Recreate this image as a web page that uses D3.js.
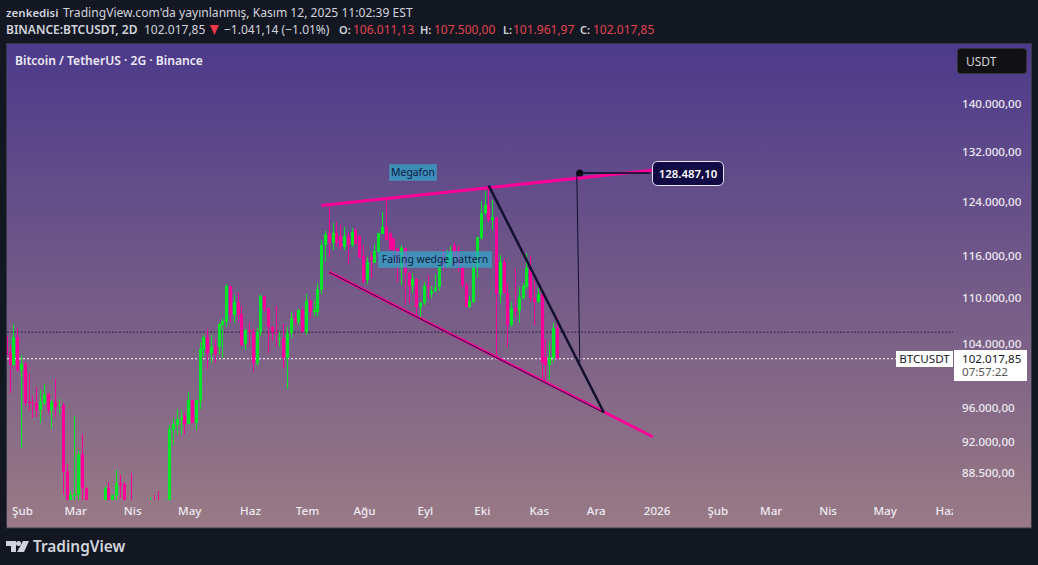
<!DOCTYPE html>
<html>
<head>
<meta charset="utf-8">
<script src="https://cdn.jsdelivr.net/npm/d3@7"></script>
<style>
  html, body { margin: 0; padding: 0; background: #131722; overflow: hidden; }
  text { font-family: "Noto Sans", sans-serif; }
</style>
</head>
<body>
<svg id="chart" width="1038" height="565"></svg>
<script>
// prices in thousands of USDT, one candle per 2 days, the first one sits 4 bars before "Şub"
const firstBar = -4;
const opens = [104.95,102.75,101.2,104.8,100.6,101.35,96.7,96.55,96.55,95.75,96.55,97.6,95.75,96.7,96.2,96.3,88.75,84.6,86.05,86.15,90.6,86.9,
  84.6,83.6,82.6,84.0,84.6,86.9,84.6,86.05,87.45,87.35,84.6,85.0,83.5,84.0,83.0,84.5,83.6,84.6,84.0,83.5,84.5,85.0,93.4,94.0,94.55,95.0,94.1,96.9,94.2,
  96.8,103.15,104.8,102.75,103.5,103.5,106.4,106.8,111.7,107.7,109.5,107.85,103.9,105.7,105.45,101.5,105.45,110.3,108.65,106.1,105.45,104.55,104.7,102.1,105.3,107.3,106.8,108.4,105.45,109.6,108.1,108.1,111.1,
  117.5,119.25,117.8,119.25,118.8,117.2,118.8,117.5,119.7,118.8,115.9,112.5,115.8,114.9,116.5,119.1,120.2,119.25,118.5,117.1,114.3,117.1,113.5,111.7,112.65,108.8,109.3,111.7,110.55,111.0,111.55,
  116.35,114.6,115.05,117.5,116.8,114.3,111.8,108.8,109.5,114.3,118.5,122.3,123.5,121.2,121.7,110.55,115.05,110.7,106.4,108.65,108.25,110.0,111.55,114.2,110.0,109.5,110.55,102.25,101.2,102.1,106.011];
const highs = [105.45,103.8,106.5,106.0,102.5,101.6,100.2,97.4,98.5,98.1,98.9,97.75,96.9,99.5,97.05,96.55,89.5,86.55,95.0,91.1,92.9,87.0,
  85.3,84.8,85.0,85.2,87.1,87.55,86.15,88.85,88.3,87.55,85.4,88.5,84.4,84.8,84.9,85.0,85.95,86.15,86.55,85.2,85.75,94.0,94.8,95.85,95.75,95.5,97.9,96.9,96.9,
  104.15,105.05,105.85,105.05,104.55,106.65,107.3,111.95,111.7,110.4,110.7,108.9,105.85,106.8,106.0,106.0,110.55,110.3,108.65,106.25,108.9,105.45,106.5,106.1,108.1,108.1,108.5,108.8,110.55,109.9,109.75,112.1,118.2,
  119.55,123.2,120.8,120.9,120.5,120.2,119.4,120.0,120.0,119.0,117.5,115.8,116.35,117.6,119.25,122.4,124.27,119.25,118.5,117.1,117.5,117.1,113.6,113.5,112.8,109.5,112.2,113.2,111.7,113.35,114.9,
  116.8,116.8,117.35,117.95,117.35,115.05,112.1,110.3,115.3,118.65,124.1,125.65,126.1,124.27,121.7,116.05,115.6,111.95,109.5,114.05,111.55,112.1,116.35,115.9,112.5,111.4,110.55,104.55,104.15,106.65,107.5];
const lows = [102.5,97.75,101.2,100.35,91.3,96.2,95.75,94.8,94.9,94.2,96.3,95.25,93.5,94.9,95.25,86.15,84.2,84.2,84.6,84.6,84.6,84.2,
  82.6,81.4,82.0,83.0,84.2,84.2,84.4,84.6,85.85,84.2,83.5,82.5,80.0,82.5,82.2,83.0,83.0,83.8,83.0,83.0,84.0,84.6,91.65,92.8,92.9,92.9,94.1,94.2,93.4,
  95.85,102.4,100.75,101.5,101.5,102.65,102.1,106.1,106.8,106.65,106.8,103.65,103.15,103.65,100.35,101.1,104.95,108.1,102.75,104.3,103.5,103.5,100.85,98.25,104.7,106.4,106.4,105.45,105.05,107.3,107.6,107.45,110.55,
  115.05,115.8,116.8,117.2,116.8,116.8,114.75,117.2,117.6,115.6,112.1,111.95,112.8,114.9,116.5,119.1,118.2,116.8,115.05,112.2,111.8,109.05,109.3,110.7,107.45,107.45,109.05,110.0,110.0,110.85,111.0,
  113.9,114.2,114.2,114.6,113.6,111.55,108.8,108.65,109.3,112.8,118.2,122.0,120.9,119.7,102.25,109.3,110.7,103.5,106.1,107.45,106.65,109.75,111.25,109.5,106.4,109.3,99.25,99.1,99.35,101.5,101.962];
const closes = [102.5,101.2,104.8,100.6,101.35,96.55,96.55,96.45,95.75,96.7,97.6,95.75,96.7,96.1,96.3,88.65,84.6,86.15,86.25,90.6,86.9,84.6,
  83.6,82.6,84.0,84.8,86.9,84.6,86.15,87.45,87.2,84.6,84.0,83.5,84.0,83.0,84.5,83.6,84.6,84.0,83.5,84.5,85.0,93.5,94.1,94.65,94.9,94.1,96.9,94.2,96.9,
  103.25,104.8,102.75,103.5,102.65,106.5,106.9,111.7,107.7,109.5,107.7,103.8,105.7,105.45,101.5,105.45,110.3,108.5,106.1,105.45,105.3,104.7,102.1,105.3,107.3,106.9,108.4,105.45,109.6,108.1,108.4,111.25,117.5,
  119.1,117.8,119.25,117.8,117.2,118.8,117.5,119.4,117.6,115.6,112.2,115.05,115.3,116.6,119.25,120.2,118.2,116.8,116.8,114.9,117.1,113.5,111.7,112.65,108.8,109.3,111.7,111.55,111.0,111.55,114.6,
  114.6,116.05,116.5,115.6,114.6,111.8,108.8,109.6,114.3,118.65,122.3,123.5,121.2,121.7,110.55,115.05,110.7,106.4,108.65,108.25,110.15,111.7,114.2,110.0,109.5,110.55,101.5,101.2,102.25,106.0,102.018];

const priceTicks = [140, 132, 124, 116, 110, 104, 96, 92, 88.5];
const priceLabels = ['140.000,00', '132.000,00', '124.000,00', '116.000,00', '110.000,00', '104.000,00', '96.000,00', '92.000,00', '88.500,00'];
const timeTicks = [0, 14, 29, 44, 60, 75, 90, 106, 121, 136, 151, 167, 183, 197, 212, 227, 243];
const timeLabels = ['Şub', 'Mar', 'Nis', 'May', 'Haz', 'Tem', 'Ağu', 'Eyl', 'Eki', 'Kas', 'Ara', '2026', 'Şub', 'Mar', 'Nis', 'May', 'Haz'];

const lastPrice = 102.018;
const prevLevel = 105.45;
const targetPrice = 128.4871;
const targetLabel = '128.487,10';

// drawings as [bar, price] pairs
const megaphoneTop = [[79.0, 123.4], [166.15, 128.95]];
const megaphoneBottom = [[81.1, 113.6], [166.26, 92.6]];
const wedgeLower = [[81.1, 113.6], [153.4, 95.4]];
const wedgeUpper = [[123.1, 126.5], [153.4, 95.4]];
const measureDrop = [[146.26, 128.6], [147.05, 101.6]];
const measureHead = [[147.05, 128.4871], [165.6, 128.4871]];

const svg = d3.select('#chart');
const defs = svg.append('defs');

const grad = defs.append('linearGradient')
    .attr('id', 'bg')
    .attr('x1', 0).attr('y1', 0)
    .attr('x2', 0).attr('y2', 1);
grad.append('stop').attr('offset', '0%').attr('stop-color', '#4c3a8b');
grad.append('stop').attr('offset', '50%').attr('stop-color', '#735a88');
grad.append('stop').attr('offset', '100%').attr('stop-color', '#997a85');

defs.append('clipPath').attr('id', 'candleClip')
    .append('rect').attr('x', 7).attr('y', 44).attr('width', 946).attr('height', 456);
defs.append('clipPath').attr('id', 'timeClip')
    .append('rect').attr('x', 7).attr('y', 500).attr('width', 946).attr('height', 28);

const x = d3.scaleLinear().domain([0, 141]).range([21, 21 + 141 * 3.8]);
const y = d3.scaleLog().domain([140, 88.5]).range([104, 473.2]);

svg.append('rect')
    .attr('x', 6.5).attr('y', 43.5)
    .attr('width', 1025).attr('height', 484.5)
    .attr('fill', 'url(#bg)')
    .attr('stroke', '#363a47');

// header
const head = svg.append('g').attr('font-size', 12).attr('fill', '#d1d4dc');
head.append('text').attr('x', 6).attr('y', 17).attr('font-size', 11.5).attr('font-weight', 600).text('zenkedisi');
head.append('text').attr('x', 63).attr('y', 17).attr('font-size', 12.1).text("TradingView.com'da yayınlanmış, Kasım 12, 2025 11:02:39 EST");
const line2 = [
    ['BINANCE:BTCUSDT, 2D', 6, 600, '#d1d4dc'],
    ['102.017,85', 144, 400, '#d1d4dc'],
    ['−1.041,14 (−1.01%)', 224, 400, '#d1d4dc'],
    ['O:', 339, 600, '#d1d4dc'],
    ['106.011,13', 353, 400, '#e0434f'],
    ['H:', 420, 600, '#d1d4dc'],
    ['107.500,00', 434, 400, '#e0434f'],
    ['L:', 503, 600, '#d1d4dc'],
    ['101.961,97', 513, 400, '#e0434f'],
    ['C:', 580, 600, '#d1d4dc'],
    ['102.017,85', 593, 400, '#e0434f']
];
line2.forEach(d => {
    head.append('text')
        .attr('x', d[1]).attr('y', 34)
        .attr('font-size', d[2] === 600 && d[1] > 6 ? 11 : 12)
        .attr('font-weight', d[2]).attr('fill', d[3])
        .text(d[0]);
});
head.append('path').attr('d', 'M210,25 L219,25 L214.5,35 Z').attr('fill', '#f23645');

svg.append('text')
    .attr('x', 15).attr('y', 65)
    .attr('font-size', 12.1).attr('font-weight', 600)
    .attr('fill', '#eceaf4')
    .text('Bitcoin / TetherUS · 2G · Binance');

// level lines
svg.append('line')
    .attr('x1', 7).attr('x2', 953)
    .attr('y1', y(prevLevel)).attr('y2', y(prevLevel))
    .attr('stroke', '#2a2440').attr('stroke-dasharray', '2 1.5');
svg.append('line')
    .attr('x1', 7).attr('x2', 896)
    .attr('y1', y(lastPrice)).attr('y2', y(lastPrice))
    .attr('stroke', '#fff').attr('stroke-dasharray', '2 2');

// candles
const bars = opens.map((o, i) => ({
    bar: firstBar + i, o: o, h: highs[i], l: lows[i], c: closes[i]
}));
const candles = svg.append('g')
    .attr('clip-path', 'url(#candleClip)')
    .attr('shape-rendering', 'crispEdges');
const candleColor = d => d.c >= d.o ? '#00e62a' : '#ff0099';

candles.selectAll('.wick').data(bars).join('rect')
    .attr('class', 'wick')
    .attr('x', d => Math.round(x(d.bar)))
    .attr('width', 1)
    .attr('y', d => y(d.h))
    .attr('height', d => y(d.l) - y(d.h))
    .attr('fill', candleColor);
candles.selectAll('.body').data(bars).join('rect')
    .attr('class', 'body')
    .attr('x', d => Math.round(x(d.bar)) - 1)
    .attr('width', 3)
    .attr('y', d => y(Math.max(d.o, d.c)))
    .attr('height', d => Math.max(1, Math.abs(y(d.o) - y(d.c))))
    .attr('fill', candleColor);

// axes
const yAxis = d3.axisRight(y)
    .tickValues(priceTicks)
    .tickSize(0)
    .tickPadding(9)
    .tickFormat((d, i) => priceLabels[i]);
const yG = svg.append('g').attr('transform', 'translate(953,0)').call(yAxis);
yG.select('.domain').remove();
yG.selectAll('text')
    .style('font-family', '"Noto Sans", sans-serif')
    .attr('font-size', 11.6).attr('font-weight', 500)
    .attr('fill', '#eeeaf2');

const xAxis = d3.axisBottom(x)
    .tickValues(timeTicks)
    .tickSize(0)
    .tickPadding(7)
    .tickFormat((d, i) => timeLabels[i]);
const xG = svg.append('g')
    .attr('clip-path', 'url(#timeClip)')
    .append('g')
    .attr('transform', 'translate(1,500)')
    .call(xAxis);
xG.select('.domain').remove();
xG.selectAll('text')
    .style('font-family', '"Noto Sans", sans-serif')
    .attr('font-size', 11.6).attr('font-weight', 500)
    .attr('fill', '#eeeaf2');

// drawings
const trend = d3.line().x(d => x(d[0])).y(d => y(d[1]));
const drawLine = (pts, color, width) => svg.append('path')
    .attr('d', trend(pts))
    .attr('fill', 'none')
    .attr('stroke', color)
    .attr('stroke-width', width);

drawLine(megaphoneTop, '#ff0099', 3);
drawLine(megaphoneBottom, '#ff0099', 3);
drawLine(wedgeLower, '#1a0f3a', 1);
drawLine(wedgeUpper, '#120f30', 2.5);
drawLine(measureDrop, '#120f30', 1);
drawLine(measureHead, '#120f30', 2).attr('stroke-opacity', 0.85);
svg.append('circle')
    .attr('cx', x(measureHead[0][0])).attr('cy', y(targetPrice))
    .attr('r', 3.5).attr('fill', '#0b0b18');

const note = (bx, by, bw, bh, label) => {
    svg.append('rect')
        .attr('x', bx).attr('y', by).attr('width', bw).attr('height', bh)
        .attr('fill', '#2fa8cc').attr('fill-opacity', 0.72)
        .attr('stroke', '#4a8fb0').attr('stroke-opacity', 0.6);
    svg.append('text')
        .attr('x', bx + bw / 2).attr('y', by + bh / 2 + 3.5)
        .attr('text-anchor', 'middle')
        .attr('font-size', 10.4)
        .attr('fill', '#0e1a3e')
        .text(label);
};
note(389.5, 164.5, 47, 16, 'Megafon');
note(378.5, 251.5, 113, 16, 'Falling wedge pattern');

svg.append('rect')
    .attr('x', 652.5).attr('y', 161.5).attr('width', 71).attr('height', 24).attr('rx', 5)
    .attr('fill', '#120a44').attr('stroke', '#e8e6f0');
svg.append('text')
    .attr('x', 688).attr('y', 177.5)
    .attr('text-anchor', 'middle')
    .attr('font-size', 11.4).attr('font-weight', 600)
    .attr('fill', '#fff')
    .text(targetLabel);

// price scale widgets
svg.append('rect')
    .attr('x', 957.5).attr('y', 48.5).attr('width', 69).attr('height', 25).attr('rx', 3)
    .attr('fill', '#111114').attr('stroke', '#33333a');
svg.append('text')
    .attr('x', 966).attr('y', 65.5)
    .attr('font-size', 12).attr('fill', '#d1d4dc')
    .text('USDT');

svg.append('rect').attr('x', 896).attr('y', 351).attr('width', 57).attr('height', 16).attr('fill', '#fff');
svg.append('text')
    .attr('x', 924.5).attr('y', 363)
    .attr('text-anchor', 'middle')
    .attr('font-size', 11.6).attr('fill', '#131722')
    .text('BTCUSDT');
svg.append('rect').attr('x', 954).attr('y', 350).attr('width', 73).attr('height', 31).attr('fill', '#fff');
svg.append('text')
    .attr('x', 962).attr('y', 362.5)
    .attr('font-size', 11.6).attr('fill', '#131722')
    .text('102.017,85');
svg.append('text')
    .attr('x', 962).attr('y', 376)
    .attr('font-size', 11.6).attr('fill', '#555')
    .text('07:57:22');

// logo
const logo = svg.append('g').attr('fill', '#d1d4dc');
logo.append('path').attr('d', 'M6,541 L16,541 L16,552 L11,552 L11,546 L6,546 Z');
logo.append('circle').attr('cx', 18.5).attr('cy', 543.5).attr('r', 2.5);
logo.append('path').attr('d', 'M23,541 L29,541 L24,552 L17,552 Z');
logo.append('text')
    .attr('x', 33).attr('y', 552)
    .attr('font-size', 15.4).attr('font-weight', 600)
    .text('TradingView');
</script>
</body>
</html>
